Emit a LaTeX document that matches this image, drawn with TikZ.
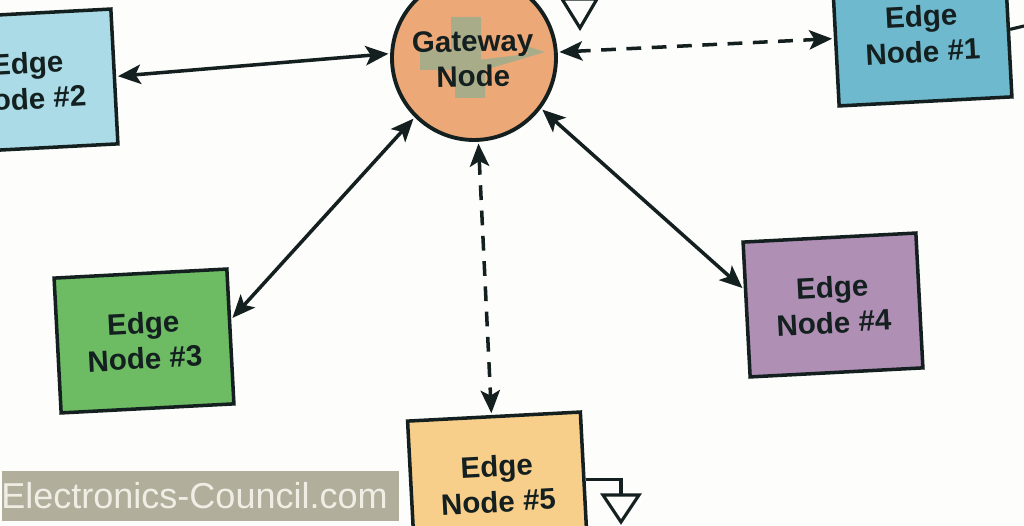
\documentclass[tikz,border=0pt]{standalone}
\usepackage{fontspec}
\setmainfont{Liberation Sans}
\usepackage{xcolor}
\usepackage{tikz}
\usetikzlibrary{arrows.meta}
\definecolor{paper}{HTML}{FDFDFB}
\definecolor{inkline}{HTML}{14201F}
\definecolor{gatewayfill}{HTML}{EDA878}
\definecolor{iconfill}{HTML}{A8AC89}
\definecolor{markfill}{HTML}{B1AE9C}
\definecolor{marktext}{HTML}{F0EEE4}
\tikzset{
  edgenode/.style={draw=inkline,line width=1pt,rotate=3,minimum width=1.73cm,minimum height=1.35cm,
    inner sep=0pt,align=center,text=inkline,font=\fontsize{8.4}{10}\selectfont\bfseries},
  gatewaynode/.style={circle,draw=inkline,line width=1.1pt,fill=gatewayfill,minimum size=1.64cm,inner sep=0pt},
  link/.style={<->,>={Stealth[length=6.5pt,width=5.5pt,inset=1.5pt]},draw=inkline,line width=1pt,shorten <=0.5pt,shorten >=0.5pt},
  dashlink/.style={link,dash pattern=on 4.2pt off 3pt},
  wire/.style={draw=inkline,line width=0.9pt},
}
\begin{document}
\begin{tikzpicture}[x=1cm,y=1cm]
                \useasboundingbox (0,0) rectangle (10.24,5.26);
                \clip (0,0) rectangle (10.24,5.26);
                \fill[paper] (0,0) rectangle (10.24,5.26);
                % nodes
                \node[gatewaynode] (gw) at (4.74,4.68) {};
                \fill[iconfill] (4.51,5.09) rectangle (4.81,4.76) (4.20,4.76) rectangle (4.81,4.56)
                    (4.55,4.58) rectangle (4.85,4.28);
                \fill[iconfill] (4.78,4.54) -- (5.45,4.74) -- (5.26,4.80) -- (5.28,4.72) -- (4.78,4.66) -- cycle;
                \node[text=inkline,align=center,font=\fontsize{8.4}{10}\selectfont\bfseries,rotate=1] (gwlabel) at (4.73,4.67) {Gateway\\Node};
                \node[edgenode,fill={rgb,255:red,111;green,185;blue,207}] (e1) at (9.22,4.92) {Edge\\Node \#1};
                \node[edgenode,fill={rgb,255:red,170;green,219;blue,230}] (e2) at (0.28,4.45) {Edge\\Node \#2};
                \node[edgenode,fill={rgb,255:red,109;green,187;blue,99}] (e3) at (1.44,1.85) {Edge\\Node \#3};
                \node[edgenode,fill={rgb,255:red,176;green,143;blue,181}] (e4) at (8.33,2.21) {Edge\\Node \#4};
                \node[edgenode,fill={rgb,255:red,248;green,207;blue,138}] (e5) at (4.975,0.42) {Edge\\Node \#5};
                % links
                \draw[link] (e2.east) -- (gw.177);
                \draw[dashlink] (gw.4) -- (e1.west);
                \draw[link] (gw.225) -- (e3.11);
                \draw[link] (gw.-37.5) -- (e4.167);
                \draw[dashlink] (gw.-87) -- (e5.92);
                % grounds
                \coordinate (gnd1) at (10.24,5.0);
                \coordinate (gnd5) at (6.21,0.31);
                \draw[wire] (e1.east) -- (gnd1);
                \draw[wire] (e5.east) -| (gnd5);
                \draw[wire,fill=paper] (6.03,0.31) -- (6.39,0.31) -- (6.21,0.04) -- cycle;
                \draw[wire,fill=paper] (5.62,5.27) -- (5.97,5.27) -- (5.80,4.98) -- cycle;
                % watermark
                \node[fill=markfill,minimum width=3.97cm,minimum height=0.5cm,inner sep=0pt,text=marktext,
                    font=\fontsize{10.25}{12}\selectfont] (mark) at (2.005,0.30) {\hspace{-0.12cm}Electronics-Council.com};
            \end{tikzpicture}
\end{document}
